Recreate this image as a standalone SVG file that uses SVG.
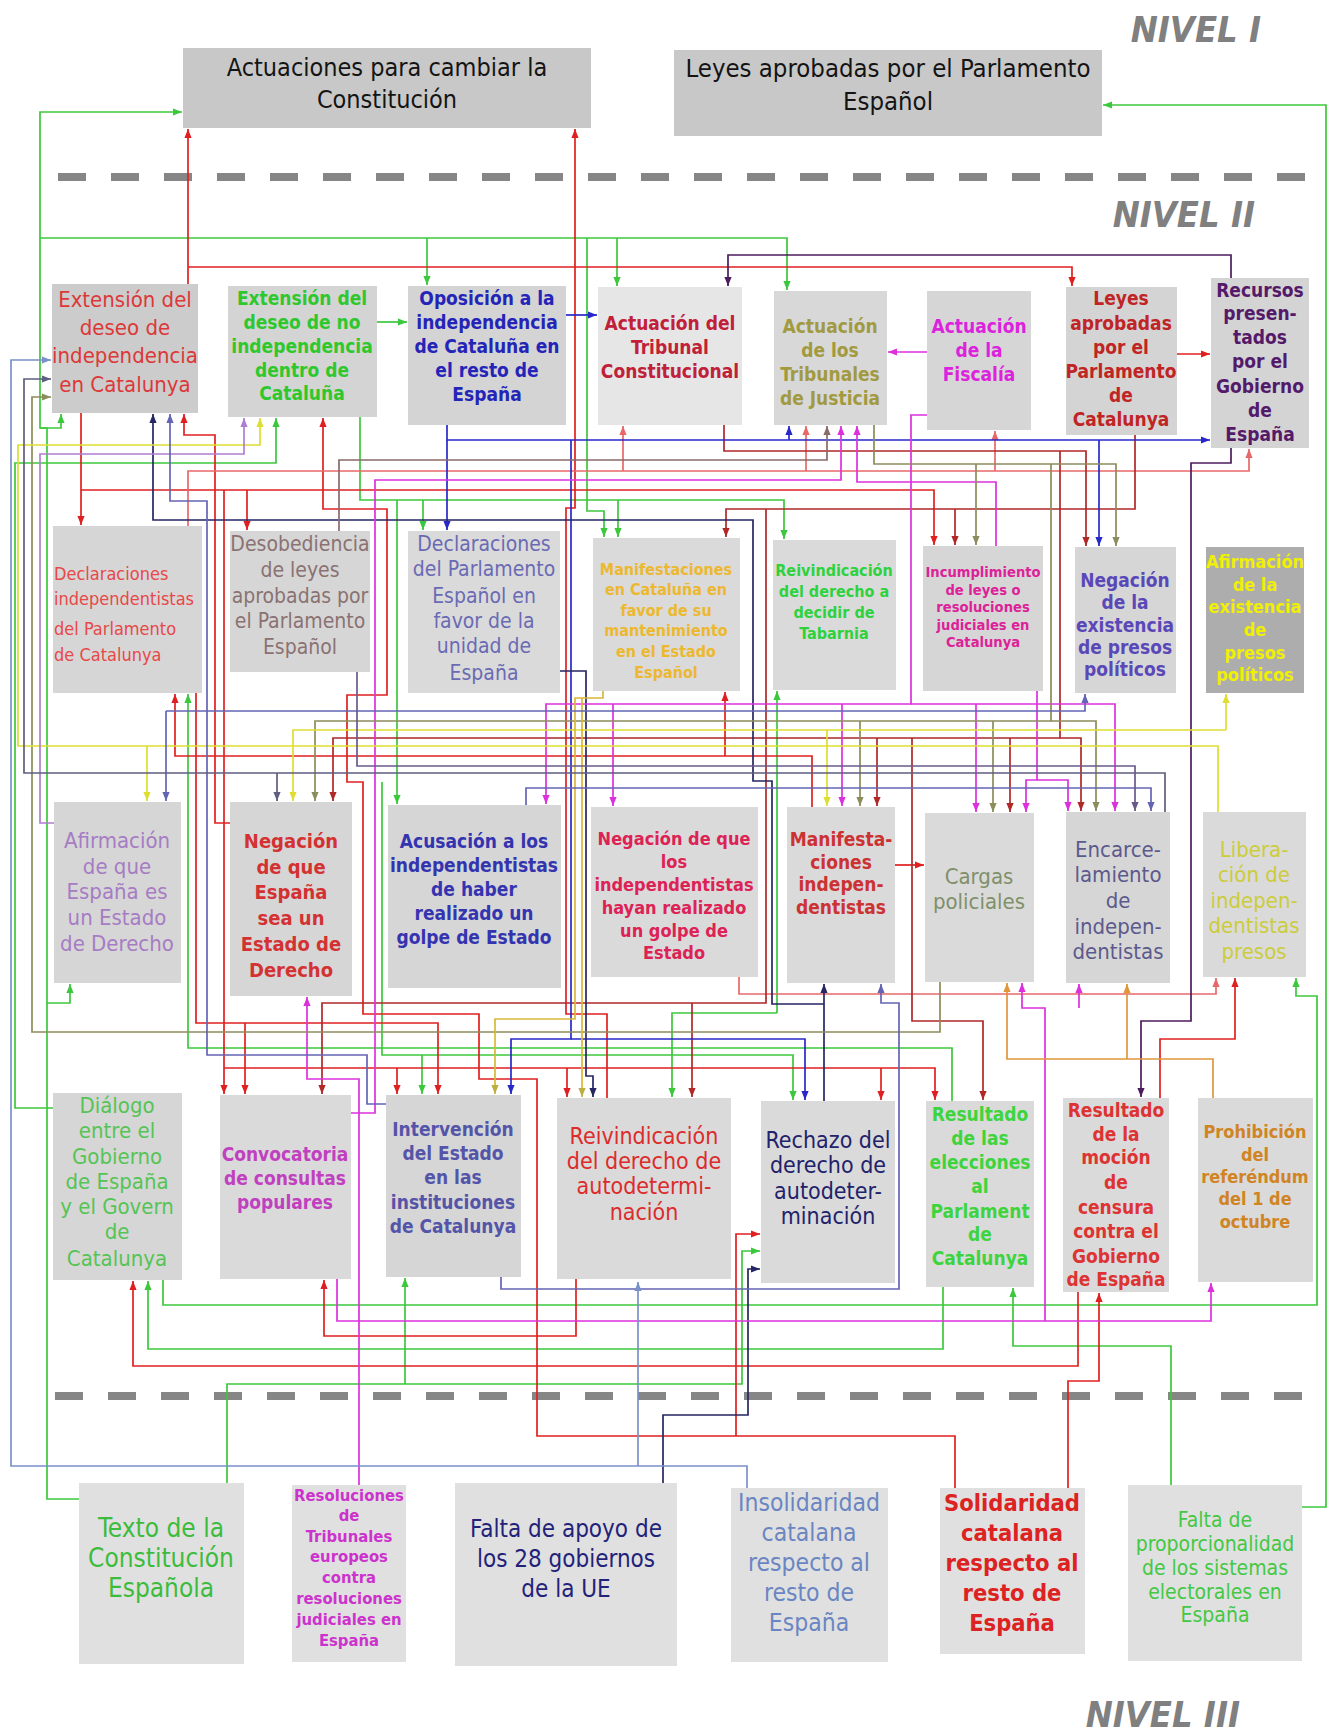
<svg xmlns="http://www.w3.org/2000/svg" width="1333" height="1732" viewBox="0 0 1333 1732">
<style>
.c{fill:none;stroke-width:1.7}
.t{font-family:"DejaVu Sans Condensed","DejaVu Sans",sans-serif;font-stretch:condensed;text-anchor:middle}
.b{font-weight:bold}
.lv{font-family:"DejaVu Sans Condensed","DejaVu Sans",sans-serif;font-stretch:condensed;font-weight:bold;font-style:italic;fill:#808080;font-size:36px;text-anchor:end}
.dash{stroke:#868686;stroke-width:8;stroke-dasharray:28 25;fill:none}
</style>
<defs>
<marker id="m-red" viewBox="0 0 10 10" refX="10" refY="5" markerWidth="9" markerHeight="9" markerUnits="userSpaceOnUse" orient="auto"><path d="M0,1L10,5L0,9z" fill="#e02020"/></marker>
<marker id="m-dred" viewBox="0 0 10 10" refX="10" refY="5" markerWidth="9" markerHeight="9" markerUnits="userSpaceOnUse" orient="auto"><path d="M0,1L10,5L0,9z" fill="#b02828"/></marker>
<marker id="m-pink" viewBox="0 0 10 10" refX="10" refY="5" markerWidth="9" markerHeight="9" markerUnits="userSpaceOnUse" orient="auto"><path d="M0,1L10,5L0,9z" fill="#e86868"/></marker>
<marker id="m-green" viewBox="0 0 10 10" refX="10" refY="5" markerWidth="9" markerHeight="9" markerUnits="userSpaceOnUse" orient="auto"><path d="M0,1L10,5L0,9z" fill="#3cc83c"/></marker>
<marker id="m-olive" viewBox="0 0 10 10" refX="10" refY="5" markerWidth="9" markerHeight="9" markerUnits="userSpaceOnUse" orient="auto"><path d="M0,1L10,5L0,9z" fill="#8c8c5c"/></marker>
<marker id="m-yellow" viewBox="0 0 10 10" refX="10" refY="5" markerWidth="9" markerHeight="9" markerUnits="userSpaceOnUse" orient="auto"><path d="M0,1L10,5L0,9z" fill="#dede30"/></marker>
<marker id="m-ylw2" viewBox="0 0 10 10" refX="10" refY="5" markerWidth="9" markerHeight="9" markerUnits="userSpaceOnUse" orient="auto"><path d="M0,1L10,5L0,9z" fill="#bcae40"/></marker>
<marker id="m-navy" viewBox="0 0 10 10" refX="10" refY="5" markerWidth="9" markerHeight="9" markerUnits="userSpaceOnUse" orient="auto"><path d="M0,1L10,5L0,9z" fill="#262664"/></marker>
<marker id="m-blue" viewBox="0 0 10 10" refX="10" refY="5" markerWidth="9" markerHeight="9" markerUnits="userSpaceOnUse" orient="auto"><path d="M0,1L10,5L0,9z" fill="#2828c8"/></marker>
<marker id="m-purple" viewBox="0 0 10 10" refX="10" refY="5" markerWidth="9" markerHeight="9" markerUnits="userSpaceOnUse" orient="auto"><path d="M0,1L10,5L0,9z" fill="#4c1c5c"/></marker>
<marker id="m-magenta" viewBox="0 0 10 10" refX="10" refY="5" markerWidth="9" markerHeight="9" markerUnits="userSpaceOnUse" orient="auto"><path d="M0,1L10,5L0,9z" fill="#dd30dd"/></marker>
<marker id="m-lpurple" viewBox="0 0 10 10" refX="10" refY="5" markerWidth="9" markerHeight="9" markerUnits="userSpaceOnUse" orient="auto"><path d="M0,1L10,5L0,9z" fill="#b07ed0"/></marker>
<marker id="m-pblue" viewBox="0 0 10 10" refX="10" refY="5" markerWidth="9" markerHeight="9" markerUnits="userSpaceOnUse" orient="auto"><path d="M0,1L10,5L0,9z" fill="#6464b4"/></marker>
<marker id="m-slate" viewBox="0 0 10 10" refX="10" refY="5" markerWidth="9" markerHeight="9" markerUnits="userSpaceOnUse" orient="auto"><path d="M0,1L10,5L0,9z" fill="#5e5e80"/></marker>
<marker id="m-gbrown" viewBox="0 0 10 10" refX="10" refY="5" markerWidth="9" markerHeight="9" markerUnits="userSpaceOnUse" orient="auto"><path d="M0,1L10,5L0,9z" fill="#8a6a6a"/></marker>
<marker id="m-spurple" viewBox="0 0 10 10" refX="10" refY="5" markerWidth="9" markerHeight="9" markerUnits="userSpaceOnUse" orient="auto"><path d="M0,1L10,5L0,9z" fill="#6a5a8a"/></marker>
<marker id="m-bgray" viewBox="0 0 10 10" refX="10" refY="5" markerWidth="9" markerHeight="9" markerUnits="userSpaceOnUse" orient="auto"><path d="M0,1L10,5L0,9z" fill="#7a90c8"/></marker>
<marker id="m-orange" viewBox="0 0 10 10" refX="10" refY="5" markerWidth="9" markerHeight="9" markerUnits="userSpaceOnUse" orient="auto"><path d="M0,1L10,5L0,9z" fill="#e0963a"/></marker>
</defs>
<rect width="1333" height="1732" fill="#ffffff"/>

<g id="levels">
<text class="lv" x="1261" y="42">NIVEL I</text>
<text class="lv" x="1255" y="227">NIVEL II</text>
<text class="lv" x="1240" y="1727">NIVEL III</text>
<path class="dash" d="M58,177H1318"/>
<path class="dash" d="M55,1396H1318"/>
</g>

<g id="connectors">
<g stroke="#3cc83c" class="c" marker-end="url(#m-green)">
<path d="M79,1499H47V428H40V112H182"/>
<path d="M40,238H787V290"/>
<path d="M427,238V285"/>
<path d="M617,238V286"/>
<path d="M587,238V511H604V537"/>
<path d="M40,428H61V414"/>
<path d="M47,1003H70V984"/>
<path d="M377,322H407"/>
<path d="M53,1108H15V463H276V418"/>
<path d="M360,417V500H784V539"/>
<path d="M423,500V530"/>
<path d="M397,500V804"/>
<path d="M618,500V537"/>
<path d="M952,1101V1048H188V694"/>
<path d="M777,1013V691"/>
<path d="M777,1013H672V1097"/>
<path d="M382,782V1055H793V1100"/>
<path d="M422,1055V1094"/>
<path d="M163,1280V1305H1317V996H1296V978"/>
<path d="M943,1287V1349H148V1281"/>
<path d="M1171,1485V1346H1013V1288"/>
<path d="M227,1483V1384H742V1251H760"/>
<path d="M405,1384V1278"/>
<path d="M1302,1507H1326V105H1103"/>
</g>
<g stroke="#e02020" class="c" marker-end="url(#m-red)">
<path d="M188,284V129"/>
<path d="M188,267H1072V286"/>
<path d="M81,413V525"/>
<path d="M81,490H934V545"/>
<path d="M247,490V530"/>
<path d="M224,490V1094"/>
<path d="M224,1068H935V1100"/>
<path d="M397,1068V1094"/>
<path d="M567,1068V1097"/>
<path d="M881,1068V1100"/>
<path d="M230,823H215V435H184V414"/>
<path d="M607,1098V1014H566V508H575V129"/>
<path d="M955,1488V1436H537V1079H479V1014H363V782H347V695H387V509H323V418"/>
<path d="M736,1436V1234H760"/>
<path d="M1068,1488V1381H1099V1293"/>
<path d="M1078,1292V1366H133V1281"/>
<path d="M576,1279V1336H324V1280"/>
<path d="M196,693V1023H438V1094"/>
<path d="M245,1023V1094"/>
<path d="M1160,1098V1039H1235V978"/>
<path d="M1177,354H1210"/>
<path d="M812,807V756H175V694"/>
<path d="M725,756V692"/>
<path d="M895,865H924"/>
</g>
<g stroke="#e86868" class="c" marker-end="url(#m-pink)">
<path d="M739,977V994H1216V978"/>
<path d="M188,526V471H1249V449"/>
<path d="M623,471V426"/>
<path d="M806,471V426"/>
<path d="M995,471V431"/>
</g>
<g stroke="#b02828" class="c" marker-end="url(#m-dred)">
<path d="M1135,435V509H726V537"/>
<path d="M955,509V545"/>
<path d="M766,509V1003H322V1094"/>
<path d="M692,1003V1097"/>
<path d="M724,425V451H1086V546"/>
<path d="M1060,451V738H333V801"/>
<path d="M877,738V806"/>
<path d="M1010,738V812"/>
<path d="M1060,738H1081V811"/>
<path d="M912,738V1021H983V1100"/>
</g>
<g stroke="#2828c8" class="c" marker-end="url(#m-blue)">
<path d="M566,315H597"/>
<path d="M447,425V440H1210"/>
<path d="M447,440V530"/>
<path d="M789,440V426"/>
<path d="M1099,440V546"/>
<path d="M571,440V1039H511V1094"/>
<path d="M571,1039H805V1100"/>
</g>
<g stroke="#262664" class="c" marker-end="url(#m-navy)">
<path d="M824,1101V984"/>
<path d="M824,1004H772V781H753V520H153V414"/>
<path d="M560,671H586V1076H593V1097"/>
<path d="M663,1483V1415H748V1269H760"/>
</g>
<g stroke="#4c1c5c" class="c" marker-end="url(#m-purple)">
<path d="M1231,278V255H728V286"/>
<path d="M1231,448V463H1191V1021H1141V1097"/>
</g>
<g stroke="#dd30dd" class="c" marker-end="url(#m-magenta)">
<path d="M927,352H888"/>
<path d="M351,1113H375V480H841V426"/>
<path d="M996,546V482H857V426"/>
<path d="M927,415H911V704H546V804"/>
<path d="M613,704V806"/>
<path d="M842,704V806"/>
<path d="M976,704V812"/>
<path d="M911,704H1115V811"/>
<path d="M1037,691V780H1026V812"/>
<path d="M1037,780H1068V811"/>
<path d="M337,1279V1321H1211V1283"/>
<path d="M1045,1321V1008H1022V983"/>
<path d="M1079,1008V984"/>
<path d="M359,1485V1079H307V997"/>
</g>
<g stroke="#8c8c5c" class="c" marker-end="url(#m-olive)">
<path d="M874,425V464H1116V546"/>
<path d="M976,464V545"/>
<path d="M1051,464V721H315V801"/>
<path d="M860,721V806"/>
<path d="M993,721V812"/>
<path d="M1051,721H1096V811"/>
<path d="M940,982V1032H32V397H51"/>
</g>
<g stroke="#dede30" class="c" marker-end="url(#m-yellow)">
<path d="M1218,812V746H18V445H260V418"/>
<path d="M147,746V801"/>
<path d="M1226,730H293V801"/>
<path d="M1226,730V694"/>
<path d="M827,730V806"/>
</g>
<g stroke="#d8b838" class="c" marker-end="url(#m-ylw2)">
<path d="M603,691V698H575V1019H495V1094"/>
<path d="M582,698V1097"/>
</g>
<g stroke="#b07ed0" class="c" marker-end="url(#m-lpurple)">
<path d="M54,823H40V454H244V418"/>
</g>
<g stroke="#6464b4" class="c" marker-end="url(#m-pblue)">
<path d="M386,1104H367V1055H207V501H170V414"/>
<path d="M166,711H1085V694"/>
<path d="M166,711V801"/>
<path d="M526,805V788H1151V811"/>
<path d="M501,1277V1289H899V1003H881V984"/>
</g>
<g stroke="#5e5e80" class="c" marker-end="url(#m-slate)">
<path d="M1165,812V773H24V379H51"/>
<path d="M277,773V801"/>
</g>
<g stroke="#8a6a6a" class="c" marker-end="url(#m-gbrown)">
<path d="M339,531V460H827V426"/>
</g>
<g stroke="#6a5a8a" class="c" marker-end="url(#m-spurple)">
<path d="M357,672V766H1135V811"/>
</g>
<g stroke="#7a90c8" class="c" marker-end="url(#m-bgray)">
<path d="M747,1488V1466H11V360H51"/>
<path d="M638,1466V1282"/>
</g>
<g stroke="#e0963a" class="c" marker-end="url(#m-orange)">
<path d="M1213,1098V1059H1007V983"/>
<path d="M1127,1059V984"/>
</g>
</g>

<g id="n1"><rect x="183" y="48" width="408" height="80" fill="#c8c8c8"/>
<text class="t" fill="#141414" font-size="25"><tspan x="387" y="76">Actuaciones para cambiar la</tspan><tspan x="387" y="108">Constitución</tspan></text></g>
<g id="n2"><rect x="674" y="50" width="428" height="86" fill="#c8c8c8"/>
<text class="t" fill="#141414" font-size="25.5"><tspan x="888" y="77">Leyes aprobadas por el Parlamento</tspan><tspan x="888" y="110">Español</tspan></text></g>

<g id="n3"><rect x="52" y="284" width="146" height="129" fill="#cccccc"/>
<text class="t" fill="#dd3838" font-size="22"><tspan x="125" y="307">Extensión del</tspan><tspan x="125" y="335">deseo de</tspan><tspan x="125" y="363">independencia</tspan><tspan x="125" y="392">en Catalunya</tspan></text></g>
<g id="n4"><rect x="228" y="286" width="149" height="131" fill="#d4d4d4"/>
<text class="t b" fill="#2ec82e" font-size="19"><tspan x="302" y="305">Extensión del</tspan><tspan x="302" y="329">deseo de no</tspan><tspan x="302" y="353">independencia</tspan><tspan x="302" y="377">dentro de</tspan><tspan x="302" y="400">Cataluña</tspan></text></g>
<g id="n5"><rect x="408" y="286" width="158" height="139" fill="#d4d4d4"/>
<text class="t b" fill="#2424b8" font-size="19"><tspan x="487" y="305">Oposición a la</tspan><tspan x="487" y="329">independencia</tspan><tspan x="487" y="353">de Cataluña en</tspan><tspan x="487" y="377">el resto de</tspan><tspan x="487" y="401">España</tspan></text></g>
<g id="n6"><rect x="598" y="287" width="144" height="138" fill="#e6e6e6"/>
<text class="t b" fill="#c02038" font-size="19"><tspan x="670" y="330">Actuación del</tspan><tspan x="670" y="354">Tribunal</tspan><tspan x="670" y="378">Constitucional</tspan></text></g>
<g id="n7"><rect x="774" y="291" width="113" height="134" fill="#d8d8d8"/>
<text class="t b" fill="#a29a40" font-size="19"><tspan x="830" y="333">Actuación</tspan><tspan x="830" y="357">de los</tspan><tspan x="830" y="381">Tribunales</tspan><tspan x="830" y="405">de Justicia</tspan></text></g>
<g id="n8"><rect x="927" y="291" width="104" height="139" fill="#d6d6d6"/>
<text class="t b" fill="#dd22dd" font-size="19"><tspan x="979" y="333">Actuación</tspan><tspan x="979" y="357">de la</tspan><tspan x="979" y="381">Fiscalía</tspan></text></g>
<g id="n9"><rect x="1066" y="287" width="111" height="148" fill="#d4d4d4"/>
<text class="t b" fill="#c02424" font-size="19"><tspan x="1121" y="305">Leyes</tspan><tspan x="1121" y="330">aprobadas</tspan><tspan x="1121" y="354">por el</tspan><tspan x="1121" y="378">Parlamento</tspan><tspan x="1121" y="402">de</tspan><tspan x="1121" y="426">Catalunya</tspan></text></g>
<g id="n10"><rect x="1211" y="278" width="98" height="170" fill="#d4d4d4"/>
<text class="t b" fill="#541a6a" font-size="19"><tspan x="1260" y="297">Recursos</tspan><tspan x="1260" y="320">presen-</tspan><tspan x="1260" y="344">tados</tspan><tspan x="1260" y="368">por el</tspan><tspan x="1260" y="393">Gobierno</tspan><tspan x="1260" y="417">de</tspan><tspan x="1260" y="441">España</tspan></text></g>

<g id="n11"><rect x="53" y="526" width="149" height="167" fill="#d6d6d6"/>
<text class="t" fill="#e84848" font-size="18" style="text-anchor:start"><tspan x="54" y="580">Declaraciones</tspan><tspan x="54" y="605">independentistas</tspan><tspan x="54" y="635">del Parlamento</tspan><tspan x="54" y="661">de Catalunya</tspan></text></g>
<g id="n12"><rect x="230" y="531" width="140" height="141" fill="#d6d6d6"/>
<text class="t" fill="#8a7272" font-size="21"><tspan x="300" y="551">Desobediencia</tspan><tspan x="300" y="577">de leyes</tspan><tspan x="300" y="603">aprobadas por</tspan><tspan x="300" y="628">el Parlamento</tspan><tspan x="300" y="654">Español</tspan></text></g>
<g id="n13"><rect x="408" y="531" width="152" height="162" fill="#dadada"/>
<text class="t" fill="#6a6ab4" font-size="21"><tspan x="484" y="551">Declaraciones</tspan><tspan x="484" y="576">del Parlamento</tspan><tspan x="484" y="603">Español en</tspan><tspan x="484" y="628">favor de la</tspan><tspan x="484" y="653">unidad de</tspan><tspan x="484" y="680">España</tspan></text></g>
<g id="n14"><rect x="593" y="538" width="147" height="153" fill="#dadada"/>
<text class="t b" fill="#ecb830" font-size="16"><tspan x="666" y="575">Manifestaciones</tspan><tspan x="666" y="595">en Cataluña en</tspan><tspan x="666" y="616">favor de su</tspan><tspan x="666" y="636">mantenimiento</tspan><tspan x="666" y="657">en el Estado</tspan><tspan x="666" y="678">Español</tspan></text></g>
<g id="n15"><rect x="773" y="540" width="123" height="150" fill="#dadada"/>
<text class="t b" fill="#2ed23e" font-size="16"><tspan x="834" y="576">Reivindicación</tspan><tspan x="834" y="597">del derecho a</tspan><tspan x="834" y="618">decidir de</tspan><tspan x="834" y="639">Tabarnia</tspan></text></g>
<g id="n16"><rect x="923" y="546" width="120" height="145" fill="#d6d6d6"/>
<text class="t b" fill="#dd2299" font-size="14.6"><tspan x="983" y="577">Incumplimiento</tspan><tspan x="983" y="595">de leyes o</tspan><tspan x="983" y="612">resoluciones</tspan><tspan x="983" y="630">judiciales en</tspan><tspan x="983" y="647">Catalunya</tspan></text></g>
<g id="n17"><rect x="1075" y="547" width="101" height="146" fill="#d6d6d6"/>
<text class="t b" fill="#5a48b8" font-size="19"><tspan x="1125" y="587">Negación</tspan><tspan x="1125" y="609">de la</tspan><tspan x="1125" y="632">existencia</tspan><tspan x="1125" y="654">de presos</tspan><tspan x="1125" y="676">políticos</tspan></text></g>
<g id="n18"><rect x="1206" y="547" width="98" height="146" fill="#adadad"/>
<text class="t b" fill="#f0f000" font-size="18"><tspan x="1255" y="568">Afirmación</tspan><tspan x="1255" y="591">de la</tspan><tspan x="1255" y="613">existencia</tspan><tspan x="1255" y="636">de</tspan><tspan x="1255" y="659">presos</tspan><tspan x="1255" y="681">políticos</tspan></text></g>

<g id="n19"><rect x="54" y="802" width="127" height="181" fill="#d6d6d6"/>
<text class="t" fill="#a67cc4" font-size="22"><tspan x="117" y="848">Afirmación</tspan><tspan x="117" y="874">de que</tspan><tspan x="117" y="899">España es</tspan><tspan x="117" y="925">un Estado</tspan><tspan x="117" y="951">de Derecho</tspan></text></g>
<g id="n20"><rect x="230" y="802" width="122" height="194" fill="#d6d6d6"/>
<text class="t b" fill="#d43232" font-size="20"><tspan x="291" y="848">Negación</tspan><tspan x="291" y="874">de que</tspan><tspan x="291" y="899">España</tspan><tspan x="291" y="925">sea un</tspan><tspan x="291" y="951">Estado de</tspan><tspan x="291" y="977">Derecho</tspan></text></g>
<g id="n21"><rect x="388" y="805" width="173" height="183" fill="#d6d6d6"/>
<text class="t b" fill="#3434b0" font-size="19"><tspan x="474" y="848">Acusación a los</tspan><tspan x="474" y="872">independentistas</tspan><tspan x="474" y="896">de haber</tspan><tspan x="474" y="920">realizado un</tspan><tspan x="474" y="944">golpe de Estado</tspan></text></g>
<g id="n22"><rect x="591" y="807" width="167" height="170" fill="#dadada"/>
<text class="t b" fill="#dd2255" font-size="18"><tspan x="674" y="845">Negación de que</tspan><tspan x="674" y="868">los</tspan><tspan x="674" y="891">independentistas</tspan><tspan x="674" y="914">hayan realizado</tspan><tspan x="674" y="937">un golpe de</tspan><tspan x="674" y="959">Estado</tspan></text></g>
<g id="n23"><rect x="787" y="807" width="108" height="176" fill="#dadada"/>
<text class="t b" fill="#cc3232" font-size="19"><tspan x="841" y="846">Manifesta-</tspan><tspan x="841" y="869">ciones</tspan><tspan x="841" y="891">indepen-</tspan><tspan x="841" y="914">dentistas</tspan></text></g>
<g id="n24"><rect x="925" y="813" width="109" height="169" fill="#dadada"/>
<text class="t" fill="#7f906a" font-size="22"><tspan x="979" y="884">Cargas</tspan><tspan x="979" y="909">policiales</tspan></text></g>
<g id="n25"><rect x="1066" y="812" width="104" height="171" fill="#d6d6d6"/>
<text class="t" fill="#5c5a8c" font-size="22"><tspan x="1118" y="857">Encarce-</tspan><tspan x="1118" y="882">lamiento</tspan><tspan x="1118" y="908">de</tspan><tspan x="1118" y="934">indepen-</tspan><tspan x="1118" y="959">dentistas</tspan></text></g>
<g id="n26"><rect x="1203" y="812" width="103" height="165" fill="#dadada"/>
<text class="t" fill="#cccc3c" font-size="22"><tspan x="1254" y="857">Libera-</tspan><tspan x="1254" y="882">ción de</tspan><tspan x="1254" y="908">indepen-</tspan><tspan x="1254" y="933">dentistas</tspan><tspan x="1254" y="959">presos</tspan></text></g>

<g id="n27"><rect x="53" y="1093" width="129" height="187" fill="#d6d6d6"/>
<text class="t" fill="#55c455" font-size="22"><tspan x="117" y="1113">Diálogo</tspan><tspan x="117" y="1138">entre el</tspan><tspan x="117" y="1164">Gobierno</tspan><tspan x="117" y="1189">de España</tspan><tspan x="117" y="1214">y el Govern</tspan><tspan x="117" y="1239">de</tspan><tspan x="117" y="1266">Catalunya</tspan></text></g>
<g id="n28"><rect x="220" y="1095" width="131" height="184" fill="#dadada"/>
<text class="t b" fill="#c040c0" font-size="19"><tspan x="285" y="1161">Convocatoria</tspan><tspan x="285" y="1185">de consultas</tspan><tspan x="285" y="1209">populares</tspan></text></g>
<g id="n29"><rect x="386" y="1095" width="135" height="182" fill="#d6d6d6"/>
<text class="t b" fill="#5454a8" font-size="19"><tspan x="453" y="1136">Intervención</tspan><tspan x="453" y="1160">del Estado</tspan><tspan x="453" y="1184">en las</tspan><tspan x="453" y="1209">instituciones</tspan><tspan x="453" y="1233">de Catalunya</tspan></text></g>
<g id="n30"><rect x="557" y="1098" width="174" height="181" fill="#dadada"/>
<text class="t" fill="#dd2b2b" font-size="23"><tspan x="644" y="1144">Reivindicación</tspan><tspan x="644" y="1169">del derecho de</tspan><tspan x="644" y="1194">autodetermi-</tspan><tspan x="644" y="1220">nación</tspan></text></g>
<g id="n31"><rect x="761" y="1101" width="134" height="182" fill="#dadada"/>
<text class="t" fill="#22226a" font-size="23"><tspan x="828" y="1148">Rechazo del</tspan><tspan x="828" y="1173">derecho de</tspan><tspan x="828" y="1199">autodeter-</tspan><tspan x="828" y="1224">minación</tspan></text></g>
<g id="n32"><rect x="926" y="1101" width="108" height="186" fill="#dadada"/>
<text class="t b" fill="#3ed43e" font-size="19"><tspan x="980" y="1121">Resultado</tspan><tspan x="980" y="1145">de las</tspan><tspan x="980" y="1169">elecciones</tspan><tspan x="980" y="1193">al</tspan><tspan x="980" y="1218">Parlament</tspan><tspan x="980" y="1241">de</tspan><tspan x="980" y="1265">Catalunya</tspan></text></g>
<g id="n33"><rect x="1063" y="1098" width="106" height="194" fill="#dadada"/>
<text class="t b" fill="#dd3333" font-size="19"><tspan x="1116" y="1117">Resultado</tspan><tspan x="1116" y="1141">de la</tspan><tspan x="1116" y="1164">moción</tspan><tspan x="1116" y="1189">de</tspan><tspan x="1116" y="1214">censura</tspan><tspan x="1116" y="1238">contra el</tspan><tspan x="1116" y="1263">Gobierno</tspan><tspan x="1116" y="1286">de España</tspan></text></g>
<g id="n34"><rect x="1198" y="1098" width="115" height="184" fill="#dadada"/>
<text class="t b" fill="#d08424" font-size="18"><tspan x="1255" y="1138">Prohibición</tspan><tspan x="1255" y="1161">del</tspan><tspan x="1255" y="1183">referéndum</tspan><tspan x="1255" y="1205">del 1 de</tspan><tspan x="1255" y="1228">octubre</tspan></text></g>

<g id="n35"><rect x="79" y="1483" width="165" height="181" fill="#e0e0e0"/>
<text class="t" fill="#3cbc3c" font-size="26"><tspan x="161" y="1537">Texto de la</tspan><tspan x="161" y="1567">Constitución</tspan><tspan x="161" y="1597">Española</tspan></text></g>
<g id="n36"><rect x="292" y="1485" width="114" height="177" fill="#e0e0e0"/>
<text class="t b" fill="#cc33cc" font-size="16.5"><tspan x="349" y="1501">Resoluciones</tspan><tspan x="349" y="1521">de</tspan><tspan x="349" y="1542">Tribunales</tspan><tspan x="349" y="1562">europeos</tspan><tspan x="349" y="1583">contra</tspan><tspan x="349" y="1604">resoluciones</tspan><tspan x="349" y="1625">judiciales en</tspan><tspan x="349" y="1646">España</tspan></text></g>
<g id="n37"><rect x="455" y="1483" width="222" height="183" fill="#e0e0e0"/>
<text class="t" fill="#22227a" font-size="24"><tspan x="566" y="1537">Falta de apoyo de</tspan><tspan x="566" y="1567">los 28 gobiernos</tspan><tspan x="566" y="1597">de la UE</tspan></text></g>
<g id="n38"><rect x="731" y="1488" width="157" height="174" fill="#e0e0e0"/>
<text class="t" fill="#6a86c2" font-size="24.5"><tspan x="809" y="1511">Insolidaridad</tspan><tspan x="809" y="1541">catalana</tspan><tspan x="809" y="1571">respecto al</tspan><tspan x="809" y="1601">resto de</tspan><tspan x="809" y="1631">España</tspan></text></g>
<g id="n39"><rect x="940" y="1488" width="145" height="166" fill="#e0e0e0"/>
<text class="t b" fill="#dd2222" font-size="23.5"><tspan x="1012" y="1511">Solidaridad</tspan><tspan x="1012" y="1541">catalana</tspan><tspan x="1012" y="1571">respecto al</tspan><tspan x="1012" y="1601">resto de</tspan><tspan x="1012" y="1631">España</tspan></text></g>
<g id="n40"><rect x="1128" y="1485" width="174" height="176" fill="#e0e0e0"/>
<text class="t" fill="#44c844" font-size="21"><tspan x="1215" y="1527">Falta de</tspan><tspan x="1215" y="1551">proporcionalidad</tspan><tspan x="1215" y="1575">de los sistemas</tspan><tspan x="1215" y="1599">electorales en</tspan><tspan x="1215" y="1622">España</tspan></text></g>
</svg>
